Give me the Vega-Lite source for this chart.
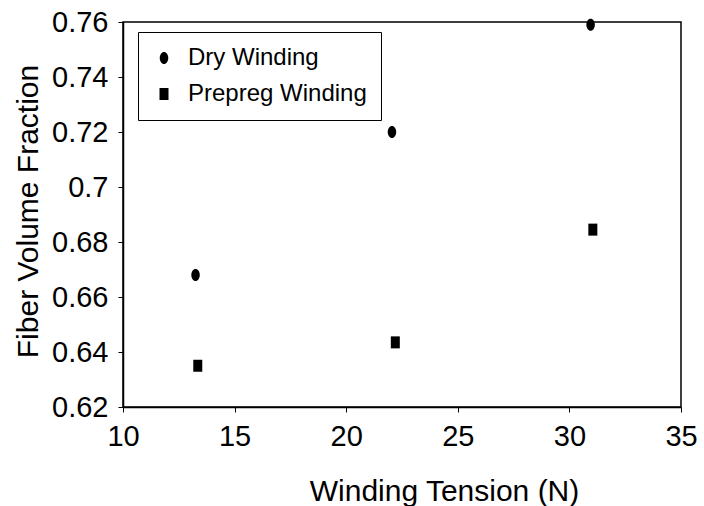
{
  "$schema": "https://vega.github.io/schema/vega-lite/v6.json",
  "width": 558,
  "height": 385,
  "autosize": "none",
  "padding": {"left": 123, "top": 22, "right": 23, "bottom": 99},
  "background": "white",
  "config": {
    "font": "Liberation Sans",
    "view": {"stroke": "black", "strokeWidth": 1.5},
    "axis": {"grid": false, "domainColor": "black", "tickColor": "black", "labelColor": "black", "titleColor": "black", "labelFont": "Liberation Sans", "titleFont": "Liberation Sans", "titleFontWeight": "normal", "domainWidth": 1.5}
  },
  "data": {
    "values": [
      {"tension": 13.25, "vf": 0.668, "series": "Dry Winding"},
      {"tension": 22.05, "vf": 0.720, "series": "Dry Winding"},
      {"tension": 30.95, "vf": 0.759, "series": "Dry Winding"},
      {"tension": 13.35, "vf": 0.635, "series": "Prepreg Winding"},
      {"tension": 22.2, "vf": 0.6435, "series": "Prepreg Winding"},
      {"tension": 31.05, "vf": 0.6845, "series": "Prepreg Winding"}
    ]
  },
  "mark": {"type": "point", "filled": true, "opacity": 1},
  "encoding": {
    "x": {
      "field": "tension", "type": "quantitative",
      "scale": {"domain": [10, 35], "nice": false},
      "axis": {"values": [10, 15, 20, 25, 30, 35], "title": "Winding Tension (N)", "titleFontSize": 30, "titleX": 321, "titleY": 93, "titleBaseline": "alphabetic", "labelFontSize": 29, "tickSize": 5, "labelPadding": 10, "labelFlush": false}
    },
    "y": {
      "field": "vf", "type": "quantitative",
      "scale": {"domain": [0.62, 0.76], "nice": false, "zero": false},
      "axis": {"values": [0.62, 0.64, 0.66, 0.68, 0.7, 0.72, 0.74, 0.76], "format": "~g", "title": "Fiber Volume Fraction", "titleFontSize": 30, "titleX": -86, "titleY": 189, "titleBaseline": "alphabetic", "titleAngle": 270, "labelFontSize": 29, "tickSize": 5, "labelPadding": 10}
    },
    "shape": {
      "field": "series", "type": "nominal",
      "scale": {"domain": ["Dry Winding", "Prepreg Winding"], "range": ["M0,-1.2A0.85,1.2 0 1,1 0,1.2A0.85,1.2 0 1,1 0,-1.2Z", "M-0.9,-1.2H0.9V1.2H-0.9Z"]},
      "legend": {"title": null, "orient": "none", "legendX": 15, "legendY": 10, "labelFontSize": 24, "labelColor": "black", "labelLimit": 0, "symbolSize": 100, "symbolFillColor": "black", "symbolStrokeWidth": 0, "strokeColor": "black", "fillColor": "white", "padding": 14, "rowPadding": 12, "labelOffset": 12, "symbolOffset": 0}
    },
    "color": {"value": "black"},
    "size": {"value": 100}
  }
}
